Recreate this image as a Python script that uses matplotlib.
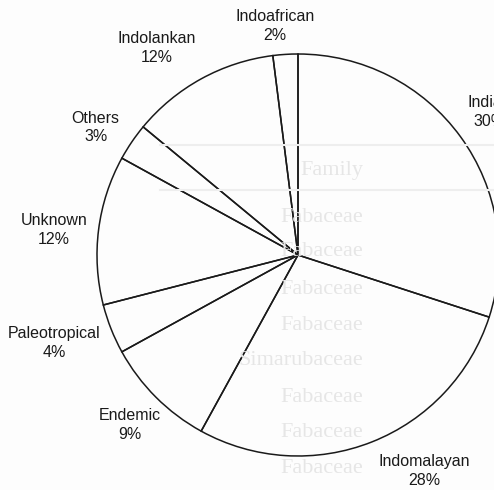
import numpy as np
import matplotlib
matplotlib.use("Agg")
import matplotlib.pyplot as plt

# geographical affinity categories, clockwise from 12 o'clock
names = ["Indian", "Indomalayan", "Endemic", "Paleotropical",
         "Unknown", "Others", "Indolankan", "Indoafrican"]
shares = [30, 28, 9, 4, 12, 3, 12, 2]

# faint print showing through from the facing page
ghost_rows = ["Family", "Fabaceae", "Fabaceae", "Fabaceae", "Fabaceae",
              "Simarubaceae", "Fabaceae", "Fabaceae", "Fabaceae"]

W, H = 494, 490
fig = plt.figure(figsize=(W / 100, H / 100), dpi=100)
fig.patch.set_facecolor("#fdfdfd")

# background ghost text (figure coords, pixels from top-left)
def px(x, y):
    return x / W, 1 - y / H

gcol = "#e6e6e6"
row_y = [170, 218, 252, 290, 325, 360, 398, 432, 468]
for lbl, yy in zip(ghost_rows, row_y):
    fig.text(*px(363, yy), lbl, ha="right", va="center", fontsize=16,
             family="Liberation Serif", color=gcol)
for yy in [145, 190]:
    fig.add_artist(plt.Line2D([160 / W, 1], [1 - yy / H] * 2,
                              color="#eeeeee", lw=1.5))

# pie axes: centre (298,255) px, radius 201 px
R = 201
cx, cy = 298, 255
span = 1.5
size = 2 * span * R
ax = fig.add_axes([(cx - size / 2) / W, (H - cy - size / 2) / H,
                   size / W, size / H])
ax.patch.set_alpha(0)
ax.set_xlim(-span, span)
ax.set_ylim(-span, span)
ax.set_aspect("equal")
ax.axis("off")

wedges, _ = ax.pie(shares, startangle=90, counterclock=False,
                   wedgeprops=dict(facecolor="none", edgecolor="#1a1a1a",
                                   linewidth=1.1))
ax.set_xlim(-span, span)
ax.set_ylim(-span, span)

# label placement: distance and angular nudge relative to the wedge middle
lab_dist = [1.19, 1.245, 1.19, 1.29, 1.22, 1.19, 1.245, 1.145]
lab_nudge = [0.7, 8.7, 0.3, -1.7, 1.3, 2.0, 5.5, 2.1]
for w, n, s, d, dn in zip(wedges, names, shares, lab_dist, lab_nudge):
    mid = np.deg2rad((w.theta1 + w.theta2) / 2 + dn)
    ax.text(d * np.cos(mid), d * np.sin(mid), f"{n}\n{s}%",
            ha="center", va="center", fontsize=11.5, linespacing=1.3,
            family="Liberation Sans", color="#1a1a1a", clip_on=False)

fig.savefig("out.png", dpi=100, facecolor=fig.get_facecolor())
